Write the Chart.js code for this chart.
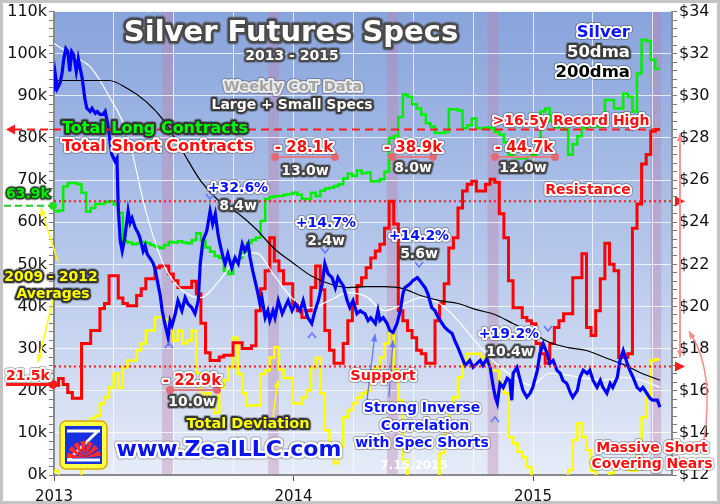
<!DOCTYPE html>
<html>
<head>
<meta charset="utf-8">
<script src="https://cdn.jsdelivr.net/npm/chart.js@4.4.1/dist/chart.umd.min.js"></script>
<style>
  html, body { margin: 0; padding: 0; background: #fff; }
  #wrap { width: 720px; height: 504px; }
</style>
</head>
<body>
<div id="wrap"><canvas id="chart" width="720" height="504"></canvas></div>
<script>
// weekly CoT data, Jan 2013 - Jul 2015, thousands of contracts
const startYear = 2013;
const longK = [
  62.6, 62.6, 62.8, 68.5, 69.3, 69.3, 69, 67, 62.5, 63.4,
  64.3, 64.3, 64.8, 65, 64.2, 62.2, 55.6, 55.2, 54.8, 55,
  55.3, 55, 54.6, 54.2, 53.9, 54.6, 55.3, 55.2, 55.5, 55.2,
  55, 55.8, 57.4, 55.6, 54, 53, 52, 51.5, 48.5, 47.7,
  50.8, 51.5, 52.5, 55, 55.8, 56.3, 60.3, 65.5, 66, 66.2,
  66.2, 66.5, 66.7, 67, 66.5, 65.5, 65.5, 67, 66.2, 67.5,
  68, 68.2, 68.6, 69, 70.4, 71.5, 71, 72.3, 71.6, 71.8,
  69.7, 69.7, 70.2, 72, 80, 80.5, 85, 90.3, 89.8, 88,
  87, 85.6, 83.5, 82.7, 81.2, 81.2, 81.4, 86.8, 86.8, 86.5,
  82.3, 83, 84.6, 82.3, 82.3, 82.5, 82.3, 81.5, 80.8, 79,
  76, 75.5, 75.2, 75.2, 75.5, 76, 78.5, 86.3, 87, 84,
  82.5, 84.2, 82, 76, 78.5, 80.4, 82.3, 82.7, 82.7, 82.7,
  82.7, 89, 89, 87, 87, 90.5, 89.8, 86.3, 95.3, 103.3,
  103, 98.6, 96.5
];
const shortK = [
  21.3, 21.3, 22.9, 21.5, 19.6, 18.2, 18.2, 31.2, 31.2, 34.3,
  34.3, 39.5, 40.7, 47.3, 47.3, 42, 40.7, 40.2, 40.2, 42.6,
  44.2, 46.6, 46.6, 49.2, 49.6, 49.6, 47.7, 46.1, 44.5, 44.5,
  44.5, 46, 43, 36, 29, 27.2, 27.2, 28, 28.4, 28.4,
  31.4, 31.4, 30, 30, 30.7, 39, 44.2, 48.5, 56.3, 50.8,
  48.5, 45.4, 45.4, 40.7, 39, 37.4, 39, 44.5, 49.6, 44,
  34.3, 29.6, 26.5, 26.5, 31.2, 36.6, 40.7, 45, 46.8, 49.2,
  51.5, 53.2, 54.8, 58.6, 65, 59.6, 39, 36.6, 34.3, 32.6,
  29.6, 28.8, 26.5, 26.5, 36.6, 40.7, 45.4, 53.9, 56.3, 63.4,
  67.4, 69, 69.7, 67.4, 67.4, 69, 70.2, 69.5, 62, 56.3,
  46.1, 39.7, 39.7, 37.4, 36.6, 35.9, 31.2, 28.8, 26.5, 31.2,
  35, 36.6, 38.3, 38.3, 46.8, 46.8, 52.5, 35, 33.1, 39,
  46.6, 55, 50, 48.5, 27.9, 27.9, 28.8, 58.6, 64.3, 73.8,
  76.1, 81.6, 82
];
const deviationK = [
  0.5, 1, -2, -2, -2, -2, -2, 2, 10, 13.5,
  14, 17, 18.4, 20.8, 24.1, 20.8, 25.5, 27.2, 27.2, 29.6,
  31.2, 34.3, 34.3, 37.4, 37.4, 37, 34.3, 31.9, 34.3, 31.2,
  31.9, 34.3, 24.1, 18.4, 19.4, 16.1, 14.7, 20.8, 22.5, 25.5,
  32.6, 24, 19.4, 16.5, 16.5, 16.5, 24, 24.8, 27.9, 30.3,
  25, 23, 23, 17, 17, 18.4, 20.1, 25.5, 27.8, 19.4,
  10.6, 4.3, 2.8, 6.6, 13.7, 15.4, 17, 18.4, 19.4, 20,
  24.8, 25.5, 27.9, 31.2, 34.3, 25, 17.7, 3.5, -2, -2,
  -2, -2, -2, -2, -2, 5.2, 10.6, 15.4, 18.4, 23.2,
  27, 28.8, 28.8, 28.8, 27.9, 26.5, 24.8, 24.8, 21.7, 19.4,
  9, 7.5, 5.5, 4.3, 1.9, -1, -3, -3, -3, -3,
  -3, -3, -1, 1.2, 8.3, 12.3, 9, 5.9, 1, -2,
  -2, -2, 0.5, 2.8, 2.8, 2.8, 1.2, 1, 8, 13.7,
  18.4, 27.2, 27.5
];
// silver price readings: day number since 1 Jan 2013, and $/oz
const silverDay = [
  0, 2, 5, 9, 12, 15, 18, 21, 24, 27, 30, 34, 37, 40, 43, 47, 50, 55, 58, 63,
  66, 70, 75, 78, 82, 85, 88, 93, 96, 98, 101, 104, 108, 113, 116, 119, 124, 128, 131, 136,
  139, 142, 146, 151, 154, 159, 162, 165, 169, 174, 177, 180, 185, 189, 195, 200, 204, 210, 215, 220,
  223, 227, 233, 238, 242, 246, 250, 253, 258, 261, 265, 271, 276, 281, 287, 291, 296, 299, 303, 310,
  314, 317, 322, 326, 329, 334, 337, 342, 348, 352, 357, 363, 368, 375, 380, 383, 387, 393, 398, 403,
  409, 413, 418, 424, 429, 433, 436, 441, 447, 451, 456, 462, 467, 471, 474, 479, 483, 490, 494, 497,
  502, 508, 512, 517, 523, 528, 532, 535, 543, 547, 554, 558, 566, 570, 576, 581, 586, 592, 596, 601,
  607, 611, 616, 622, 627, 634, 639, 645, 650, 654, 660, 665, 670, 673, 676, 680, 685, 691, 695, 698,
  700, 706, 711, 715, 721, 726, 730, 737, 741, 746, 752, 756, 761, 767, 772, 776, 782, 787, 791, 798,
  802, 807, 813, 817, 822, 828, 833, 837, 843, 848, 852, 859, 863, 868, 874, 878, 883, 889, 894, 898,
  904, 909, 913, 920, 924
];
const silverPrice = [
  30.21, 31.02, 30.35, 30.59, 31.02, 31.77, 32.24, 32.10, 31.16, 32.10, 31.96, 31.16, 31.77, 31.30, 30.83, 29.88, 29.41, 29.26, 29.41, 29.17,
  29.26, 29.12, 29.12, 29.26, 28.65, 27.94, 27.23, 26.90, 27.04, 24.68, 23.12, 22.64, 23.26, 24.53, 23.97, 24.20, 23.73, 23.50, 23.26, 22.64,
  22.88, 22.50, 22.31, 22.07, 21.79, 20.99, 20.51, 19.80, 19.19, 18.53, 19.33, 19.10, 19.66, 20.28, 19.80, 20.42, 20.14, 19.95, 19.66, 20.28,
  22.03, 23.12, 23.59, 24.53, 23.92, 24.39, 23.45, 22.97, 22.31, 22.03, 22.50, 21.84, 22.31, 22.03, 22.97, 22.64, 22.97, 22.31, 21.70, 20.75,
  20.14, 20.42, 19.47, 19.80, 19.33, 19.80, 19.47, 20.28, 19.66, 19.95, 20.28, 19.80, 20.14, 19.80, 20.28, 19.90, 19.47, 19.19, 19.80, 20.28,
  21.08, 22.03, 21.55, 21.37, 20.89, 21.37, 21.22, 20.99, 20.28, 19.95, 20.28, 19.66, 19.80, 19.71, 19.66, 19.33, 19.47, 19.19, 19.80, 19.33,
  19.47, 19.19, 18.86, 18.77, 19.19, 19.80, 20.61, 20.89, 21.08, 21.22, 21.37, 21.22, 20.89, 20.61, 19.95, 19.80, 19.47, 19.19, 19.00, 18.86,
  18.72, 18.39, 18.05, 17.58, 17.20, 17.44, 17.11, 17.30, 17.44, 17.20, 17.53, 17.11, 16.16, 15.69, 15.41, 16.35, 16.16, 16.59, 16.49, 15.55,
  16.82, 17.11, 16.49, 16.02, 15.69, 15.88, 16.16, 16.97, 17.77, 18.24, 17.77, 17.30, 17.44, 16.97, 16.82, 16.49, 16.35, 15.93, 15.69, 16.02,
  16.64, 16.97, 16.82, 16.97, 16.49, 16.16, 16.49, 16.16, 15.88, 16.35, 16.16, 16.64, 17.44, 17.91, 17.30, 16.97, 16.64, 16.16, 16.02, 16.16,
  15.88, 15.64, 15.55, 15.55, 15.22
];
// moving averages, one reading every 4 weeks
const maStepWeeks = 4;
const dma50 = [
  32.48, 31.92, 31.35, 29.98, 28.18, 24.53, 21.93, 20.75, 20.42, 21.22,
  22.31, 22.55, 21.46, 20.37, 19.95, 20.28, 20.66, 20.47, 19.8, 20.1,
  20.42, 20.14, 19.33, 18.29, 17.35, 16.68, 16.26, 16.83, 16.73, 16.59,
  16.5, 16.64, 16.5, 16.16
];
const dma200 = [
  30.73, 30.73, 30.73, 30.73, 30.35, 29.74, 28.8, 27.37, 25.95, 25.0,
  24.44, 23.68, 22.74, 22.08, 21.46, 21.08, 20.9, 20.94, 20.94, 20.85,
  20.51, 20.28, 20.14, 19.85, 19.62, 19.19, 18.76, 18.29, 18.05, 17.91,
  17.58, 17.25, 16.83, 16.5
];
const yearLabels = ['2013', '2014', '2015'];
const bandStarts = [2013.451, 2013.894, 2014.39, 2014.81, 2015.49];
const bandLen = 0.045;
const recordShortK = 82;
const avgLongK = 63.9;
const avgShortK = 21.5;
const resistance = 25;
const support = 17.15;

const weekX = i => startYear + i * 7 / 365.25;
const toPts = (arr, step) => arr.map((v, i) => ({ x: weekX(i * (step || 1)), y: v }));
const silverPts = silverPrice.map((v, i) => ({ x: startYear + silverDay[i] / 365.25, y: v }));
const isWhole = v => Math.abs(v - Math.round(v)) < 1e-6;
const FONT = '"DejaVu Sans", Verdana, sans-serif';

function txt(ctx, s, x, y, size, fill, stroke, align, lw) {
  ctx.font = 'bold ' + size + 'px ' + FONT;
  ctx.textAlign = align || 'center';
  ctx.textBaseline = 'alphabetic';
  ctx.lineJoin = 'round';
  if (stroke) {
    ctx.strokeStyle = 'rgba(50,50,50,0.35)';
    ctx.lineWidth = (lw || 4) + 2;
    ctx.strokeText(s, x, y);
    ctx.strokeStyle = stroke;
    ctx.lineWidth = lw || 4;
    ctx.strokeText(s, x, y);
  }
  ctx.fillStyle = fill;
  ctx.fillText(s, x, y);
}

function arrow(ctx, x1, y1, x2, y2, color, w) {
  const a = Math.atan2(y2 - y1, x2 - x1);
  ctx.strokeStyle = color;
  ctx.fillStyle = color;
  ctx.lineWidth = w;
  ctx.beginPath(); ctx.moveTo(x1, y1); ctx.lineTo(x2, y2); ctx.stroke();
  ctx.beginPath();
  ctx.moveTo(x2, y2);
  ctx.lineTo(x2 - 8 * Math.cos(a - 0.4), y2 - 8 * Math.sin(a - 0.4));
  ctx.lineTo(x2 - 8 * Math.cos(a + 0.4), y2 - 8 * Math.sin(a + 0.4));
  ctx.closePath(); ctx.fill();
}

function bracket(ctx, x1, x2, y) {
  ctx.strokeStyle = '#e87a84'; ctx.fillStyle = '#e46a76'; ctx.lineWidth = 2;
  ctx.beginPath(); ctx.moveTo(x1, y); ctx.lineTo(x2, y); ctx.stroke();
  [x1, x2].forEach(x => { ctx.beginPath(); ctx.arc(x, y, 4, 0, Math.PI * 2); ctx.fill(); });
}

function chevron(ctx, x, y, up) {
  const d = up ? -1 : 1;
  ctx.strokeStyle = '#6677ff'; ctx.lineWidth = 1.6;
  ctx.beginPath();
  ctx.moveTo(x - 4, y - 4 * d); ctx.lineTo(x, y + d); ctx.lineTo(x + 4, y - 4 * d);
  ctx.stroke();
}

const decor = {
  id: 'decor',
  beforeDraw(chart) {
    const { ctx, chartArea: a } = chart;
    const xs = chart.scales.x;
    ctx.save();
    ctx.fillStyle = '#fff';
    ctx.fillRect(0, 0, chart.width, chart.height);
    const g = ctx.createLinearGradient(0, a.top, 0, a.bottom);
    g.addColorStop(0, '#88a4dc');
    g.addColorStop(0.5, '#b3c5ea');
    g.addColorStop(1, '#e6ecf8');
    ctx.fillStyle = g;
    ctx.fillRect(a.left, a.top, a.right - a.left, a.bottom - a.top);
    ctx.fillStyle = 'rgba(190,125,170,0.36)';
    bandStarts.forEach(b => {
      const x0 = xs.getPixelForValue(b), x1 = xs.getPixelForValue(b + bandLen);
      ctx.fillRect(x0, a.top, x1 - x0, a.bottom - a.top);
    });
    ctx.restore();
  },
  afterDatasetsDraw(chart) {
    const { ctx, chartArea: a } = chart;
    const yl = chart.scales.y, yr = chart.scales.y2;
    ctx.save();
    // reference lines
    ctx.strokeStyle = '#ff1a1a';
    ctx.lineWidth = 2;
    ctx.setLineDash([8, 5]);
    const yRec = yl.getPixelForValue(recordShortK);
    ctx.beginPath(); ctx.moveTo(14, yRec); ctx.lineTo(655, yRec); ctx.stroke();
    ctx.setLineDash([2, 3]);
    [resistance, support].forEach(v => {
      const y = yr.getPixelForValue(v);
      ctx.beginPath(); ctx.moveTo(a.left, y); ctx.lineTo(a.right + 2, y); ctx.stroke();
      ctx.fillStyle = '#ff1a1a';
      ctx.beginPath(); ctx.moveTo(675, y - 5); ctx.lineTo(685, y); ctx.lineTo(675, y + 5); ctx.closePath(); ctx.fill();
    });
    ctx.setLineDash([]);
    ctx.fillStyle = '#ff1a1a';
    ctx.beginPath(); ctx.moveTo(6, yRec); ctx.lineTo(15, yRec - 5); ctx.lineTo(15, yRec + 5); ctx.closePath(); ctx.fill();

    // 2009-2012 average markers
    const yAvgL = yl.getPixelForValue(avgLongK), yAvgS = yl.getPixelForValue(avgShortK);
    ctx.strokeStyle = '#22cc22'; ctx.lineWidth = 2; ctx.setLineDash([7, 4]);
    ctx.beginPath(); ctx.moveTo(4, yAvgL); ctx.lineTo(a.left, yAvgL); ctx.stroke();
    ctx.setLineDash([]);
    ctx.fillStyle = '#22dd22';
    ctx.beginPath(); ctx.arc(a.left - 1, yAvgL, 4, 0, Math.PI * 2); ctx.fill();
    ctx.strokeStyle = '#ff1a1a'; ctx.lineWidth = 3;
    ctx.beginPath(); ctx.moveTo(6, yAvgS); ctx.lineTo(a.left, yAvgS); ctx.stroke();
    ctx.fillStyle = '#ff1a1a';
    ctx.beginPath(); ctx.arc(a.left - 1, yAvgS, 4.5, 0, Math.PI * 2); ctx.fill();

    // arrows
    arrow(ctx, 58, 262, 41, 208, '#ffff00', 1.5);
    arrow(ctx, 53, 300, 38, 362, '#ffff00', 1.5);
    arrow(ctx, 273, 417, 278, 380, '#ffff00', 1.5);
    arrow(ctx, 367, 400, 375, 334, '#6677ff', 1.3);
    arrow(ctx, 389, 397, 393, 340, '#6677ff', 1.3);
    const topP = yl.getPixelForValue(recordShortK) + 4, botP = yr.getPixelForValue(support) - 9;
    arrow(ctx, 680, botP, 680, topP, '#ff8c8c', 1.5);
    arrow(ctx, 680, topP + 10, 680, botP, '#ff8c8c', 1.5);
    ctx.strokeStyle = '#ff8c8c'; ctx.lineWidth = 1.5;
    ctx.beginPath(); ctx.moveTo(704, 440); ctx.quadraticCurveTo(714, 372, 692, 336); ctx.stroke();
    arrow(ctx, 694, 340, 689, 331, '#ff8c8c', 1.5);

    // brackets and chevrons
    bracket(ctx, 275, 335, 157);
    bracket(ctx, 392, 433, 157);
    bracket(ctx, 495, 555, 157);
    bracket(ctx, 170, 217, 390);
    chevron(ctx, 210, 198, false);
    chevron(ctx, 325, 252, false);
    chevron(ctx, 419, 266, false);
    chevron(ctx, 548, 330, false);
    chevron(ctx, 169, 344, true);
    chevron(ctx, 312, 334, true);
    chevron(ctx, 495, 418, true);

    // title block
    txt(ctx, 'Silver Futures Specs', 291, 41, 29, '#ffffff', '#4a4a4a', 'center', 5);
    txt(ctx, '2013 - 2015', 292, 60, 14, '#ffffff', '#4a4a4a', 'center', 4);
    txt(ctx, 'Weekly CoT Data', 293, 91, 14.5, '#a4a4a4', '#ececec', 'center', 4);
    txt(ctx, 'Large + Small Specs', 292, 109, 14, '#ffffff', '#3a3a3a', 'center', 4);
    txt(ctx, 'Silver', 630, 37, 16.5, '#0a14ff', '#ffffff', 'right', 4);
    txt(ctx, '50dma', 630, 57, 16.5, '#ffffff', '#3a3a3a', 'right', 4);
    txt(ctx, '200dma', 630, 77, 16.5, '#000000', '#ffffff', 'right', 4);
    txt(ctx, 'Total Long Contracts', 62, 133, 16, '#00ff00', '#333333', 'left', 4);
    txt(ctx, 'Total Short Contracts', 62, 151, 16, '#ff1010', '#ffffff', 'left', 4);
    txt(ctx, '>16.5y Record High', 571, 125, 14, '#ff1010', '#ffffff', 'center', 4);

    // short covering annotations
    txt(ctx, '- 28.1k', 304, 152, 15, '#ff1010', '#ffffff', 'center', 4);
    txt(ctx, '13.0w', 305, 175, 14, '#ffffff', '#444444', 'center', 4);
    txt(ctx, '- 38.9k', 413, 152, 15, '#ff1010', '#ffffff', 'center', 4);
    txt(ctx, '8.0w', 413, 172, 14, '#ffffff', '#444444', 'center', 4);
    txt(ctx, '- 44.7k', 524, 152, 15, '#ff1010', '#ffffff', 'center', 4);
    txt(ctx, '12.0w', 523, 172, 14, '#ffffff', '#444444', 'center', 4);
    txt(ctx, '- 22.9k', 192, 385, 15, '#ff1010', '#ffffff', 'center', 4);
    txt(ctx, '10.0w', 192, 406, 14, '#ffffff', '#444444', 'center', 4);

    // silver rallies
    txt(ctx, '+32.6%', 238, 192, 14, '#0a14ff', '#ffffff', 'center', 4);
    txt(ctx, '8.4w', 238, 210, 14, '#ffffff', '#444444', 'center', 4);
    txt(ctx, '+14.7%', 326, 227, 14, '#0a14ff', '#ffffff', 'center', 4);
    txt(ctx, '2.4w', 326, 245, 14, '#ffffff', '#444444', 'center', 4);
    txt(ctx, '+14.2%', 419, 240, 14, '#0a14ff', '#ffffff', 'center', 4);
    txt(ctx, '5.6w', 419, 258, 14, '#ffffff', '#444444', 'center', 4);
    txt(ctx, '+19.2%', 509, 338, 14, '#0a14ff', '#ffffff', 'center', 4);
    txt(ctx, '10.4w', 510, 356, 14, '#ffffff', '#444444', 'center', 4);

    txt(ctx, 'Resistance', 588, 194, 14, '#ff1010', '#ffffff', 'center', 4);
    txt(ctx, 'Support', 383, 380, 14.5, '#ff1010', '#ffffff', 'center', 4);
    txt(ctx, 'Strong Inverse', 422, 412, 14, '#0a14ff', '#ffffff', 'center', 4);
    txt(ctx, 'Correlation', 425, 430, 14, '#0a14ff', '#ffffff', 'center', 4);
    txt(ctx, 'with Spec Shorts', 422, 447, 14, '#0a14ff', '#ffffff', 'center', 4);
    txt(ctx, 'Massive Short', 652, 452, 14, '#ff1010', '#ffffff', 'center', 4);
    txt(ctx, 'Covering Nears', 652, 468, 14, '#ff1010', '#ffffff', 'center', 4);
    txt(ctx, '7.15.2015', 414, 469, 12, '#ffffff', null, 'center');
    txt(ctx, 'Total Deviation', 248, 428, 14.5, '#ffff00', '#333333', 'center', 4);

    txt(ctx, '63.9k', 28, 198, 14, '#00ee00', '#224422', 'center', 3);
    txt(ctx, '21.5k', 28, 380, 14, '#ff1010', '#ffffff', 'center', 4);
    txt(ctx, '2009 - 2012', 51, 281, 14, '#ffff00', '#333333', 'center', 4);
    txt(ctx, 'Averages', 53, 298, 14, '#ffff00', '#333333', 'center', 4);

    // logo + site
    ctx.fillStyle = '#ffff44'; ctx.strokeStyle = '#d8a800'; ctx.lineWidth = 1.5;
    ctx.beginPath(); ctx.roundRect(60, 421, 47, 48, 6); ctx.fill(); ctx.stroke();
    ctx.fillStyle = '#1830e0'; ctx.fillRect(65, 426, 37, 38);
    ctx.strokeStyle = '#ffffff'; ctx.lineWidth = 3;
    ctx.beginPath();
    ctx.moveTo(67, 431); ctx.lineTo(100, 431);
    ctx.moveTo(98, 431); ctx.lineTo(68, 460);
    ctx.moveTo(67, 460); ctx.lineTo(100, 460);
    ctx.stroke();
    ctx.fillStyle = '#ff2a2a';
    for (let k = 0; k < 7; k++) {
      const a0 = Math.PI + k * Math.PI / 7, a1 = a0 + Math.PI / 7 - 0.12;
      ctx.beginPath(); ctx.moveTo(84, 458); ctx.arc(84, 458, 17, a0, a1); ctx.closePath(); ctx.fill();
    }
    txt(ctx, 'www.ZealLLC.com', 229, 456, 22, '#0a14ee', '#ffffff', 'center', 5);
    ctx.restore();
  },
  afterDraw(chart) {
    const ctx = chart.ctx;
    ctx.save();
    ctx.strokeStyle = '#c4c4c4';
    ctx.lineWidth = 3;
    ctx.strokeRect(1.5, 1.5, chart.width - 3, chart.height - 3);
    ctx.restore();
  }
};

new Chart(document.getElementById('chart'), {
  type: 'line',
  data: {
    datasets: [
      { label: 'Silver', data: silverPts, yAxisID: 'y2', borderColor: '#0000ff', borderWidth: 3.2, order: 1 },
      { label: '200dma', data: toPts(dma200, maStepWeeks), yAxisID: 'y2', borderColor: '#000000', borderWidth: 1.2, tension: 0.4, cubicInterpolationMode: 'monotone', order: 2 },
      { label: '50dma', data: toPts(dma50, maStepWeeks), yAxisID: 'y2', borderColor: '#ffffff', borderWidth: 1.2, tension: 0.4, cubicInterpolationMode: 'monotone', order: 3 },
      { label: 'Total Long Contracts', data: toPts(longK), yAxisID: 'y', borderColor: '#00ee00', borderWidth: 2.5, stepped: 'after', order: 4 },
      { label: 'Total Short Contracts', data: toPts(shortK), yAxisID: 'y', borderColor: '#ff0000', borderWidth: 3, stepped: 'after', order: 5 },
      { label: 'Total Deviation', data: toPts(deviationK), yAxisID: 'y', borderColor: '#ffff00', borderWidth: 2.5, stepped: 'after', order: 6 }
    ]
  },
  options: {
    responsive: false,
    devicePixelRatio: 1,
    animation: false,
    layout: { padding: { top: 10, left: 0, right: 0, bottom: 0 } },
    elements: { point: { radius: 0 }, line: { fill: false } },
    plugins: { legend: { display: false }, tooltip: { enabled: false } },
    scales: {
      x: {
        type: 'linear',
        min: 2013,
        max: 2015.58,
        afterFit: s => { s.height = 29; },
        border: { color: '#8a8a8a', width: 2 },
        grid: {
          color: 'rgba(255,255,255,0.75)',
          tickLength: 6,
          tickColor: ctx => isWhole(ctx.tick.value) ? '#555' : 'rgba(0,0,0,0)'
        },
        ticks: {
          stepSize: 0.25,
          includeBounds: false,
          autoSkip: false,
          maxRotation: 0,
          padding: 7,
          color: '#111',
          font: { family: FONT, size: 15 },
          callback: v => isWhole(v) ? (yearLabels[Math.round(v) - startYear] || '') : ''
        }
      },
      y: {
        position: 'left',
        min: 0,
        max: 110,
        afterFit: s => { s.width = 54; },
        border: { color: '#8a8a8a', width: 2 },
        grid: {
          color: ctx => ctx.tick.value % 10 === 0 ? 'rgba(255,255,255,0.75)' : 'rgba(0,0,0,0)',
          tickColor: '#777',
          tickLength: 5
        },
        ticks: {
          stepSize: 2,
          autoSkip: false,
          padding: 2,
          color: '#111',
          font: { family: FONT, size: 16 },
          callback: v => v % 10 === 0 ? v + 'k' : ''
        }
      },
      y2: {
        position: 'right',
        min: 12,
        max: 34,
        afterFit: s => { s.width = 48; },
        border: { color: '#8a8a8a', width: 2 },
        grid: { drawOnChartArea: false, tickColor: '#777', tickLength: 5 },
        ticks: {
          stepSize: 0.4,
          autoSkip: false,
          padding: 2,
          color: '#111',
          font: { family: FONT, size: 16 },
          callback: v => {
            const r = Math.round(v);
            return (Math.abs(v - r) < 0.01 && r % 2 === 0) ? '$' + r : '';
          }
        }
      }
    }
  },
  plugins: [decor]
});
</script>
</body>
</html>
